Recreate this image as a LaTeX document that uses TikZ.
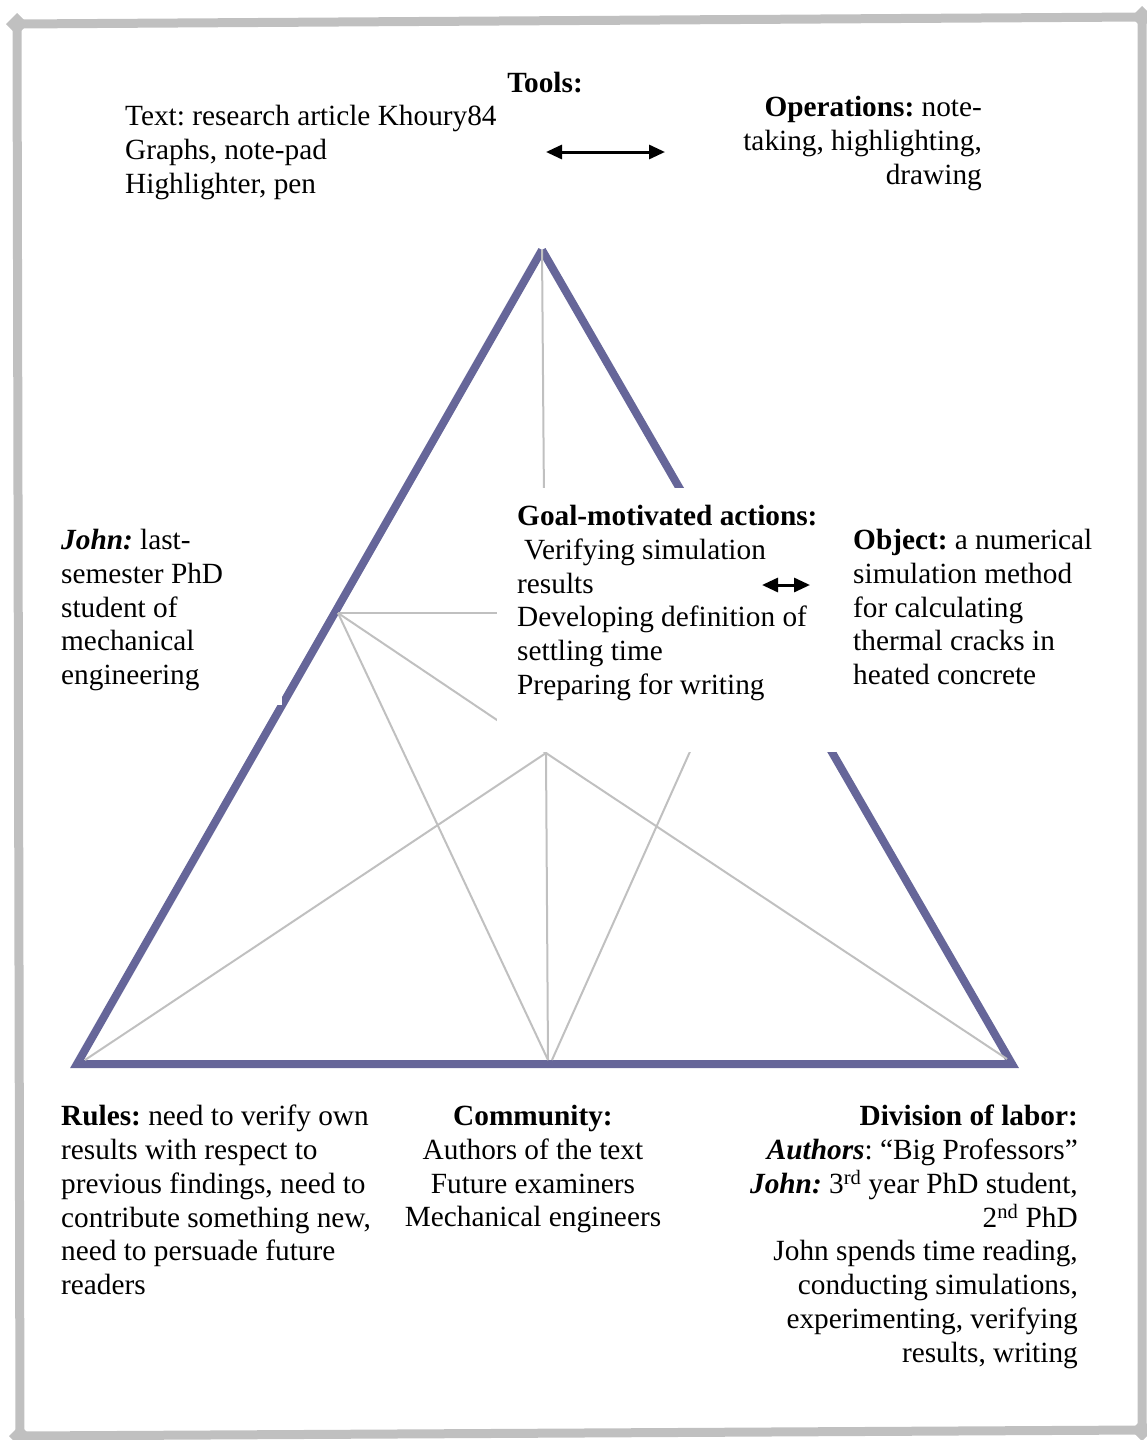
\documentclass[tikz,border=0pt]{standalone}
\usepackage{fontspec}
\setmainfont{Liberation Serif}
\usetikzlibrary{arrows.meta}
\definecolor{framegray}{HTML}{C0C0C0}
\definecolor{triblue}{HTML}{666699}
\frenchspacing
\begin{document}
\begin{tikzpicture}[x=1pt,y=-1pt,
  txt/.style={inner sep=0pt, font=\fontsize{29.3}{33.75}\selectfont},
  frameline/.style={draw=framegray, line width=9pt, line join=miter},
  corner/.style={fill=framegray},
  edge/.style={draw=triblue, line width=8pt, line join=miter},
  spoke/.style={draw=framegray, line width=2pt},
  mask/.style={fill=white, draw=none},
  biarrow/.style={line width=3pt, {Triangle[length=16pt,width=14pt]}-{Triangle[length=16pt,width=14pt]}}
]
\useasboundingbox (0,0) rectangle (1147,1440);

% outer frame with small diamond corners
\draw[frameline] (17,24) -- (1142,17) -- (1142,1430) -- (20,1436) -- cycle;
\fill[corner] (17,13) -- (28,24) -- (17,35) -- (6,24) -- cycle;
\fill[corner] (1142,6) -- (1153,17) -- (1142,28) -- (1131,17) -- cycle;
\fill[corner] (1142,1419) -- (1153,1430) -- (1142,1441) -- (1131,1430) -- cycle;
\fill[corner] (20,1425) -- (31,1436) -- (20,1447) -- (9,1436) -- cycle;

% triangle vertices and inner points
\coordinate (A)  at (542,250);
\coordinate (BL) at (77,1064);
\coordinate (BR) at (1012,1064);
\coordinate (PL) at (338,613);
\coordinate (PR) at (752,613);
\coordinate (C)  at (546,753);
\coordinate (M)  at (548,1060);
\coordinate (M2) at (552,1060);
\coordinate (BLi) at (85,1060);
\coordinate (BRi) at (1007,1059);

% main triangle
\draw[edge] (A) -- (BR) -- (BL) -- (A);

% inner connecting lines
\draw[spoke] (A) -- (C);
\draw[spoke] (PL) -- (PR);
\draw[spoke] (PL) -- (C);
\draw[spoke] (PL) -- (M);
\draw[spoke] (C) -- (BLi);
\draw[spoke] (C) -- (M);
\draw[spoke] (C) -- (BRi);
\draw[spoke] (PR) -- (M2);

% white text backgrounds
\fill[mask] (50,520) rectangle (282,705);
\fill[mask] (497,488) rectangle (840,752);

% texts
\node[txt, anchor=base] (tools) at (545,92) {\textbf{Tools:}};
\node[txt, align=left, anchor=north west] (toolitems) at (125,105)
  {Text: research article Khoury84\\Graphs, note-pad\\Highlighter, pen};
\node[txt, align=right, anchor=north east] (ops) at (982,96)
  {\textbf{Operations:} note-\\taking, highlighting,\\drawing};
\node[txt, align=left, anchor=north west] (subject) at (61,529)
  {\textbf{\textit{John:}} last-\\semester PhD\\student of\\mechanical\\engineering};
\node[txt, align=left, anchor=north west] (goal) at (517,505)
  {\textbf{Goal-motivated actions:}\\\hspace*{7pt}Verifying simulation\\results\\Developing definition of\\settling time\\Preparing for writing};
\node[txt, align=left, anchor=north west] (object) at (853,529)
  {\textbf{Object:} a numerical\\simulation method\\for calculating\\thermal cracks in\\heated concrete};
\node[txt, align=left, anchor=north west] (rules) at (61,1105)
  {\textbf{Rules:} need to verify own\\results with respect to\\previous findings, need to\\contribute something new,\\need to persuade future\\readers};
\node[txt, align=center, anchor=north] (community) at (533,1105)
  {\textbf{Community:}\\Authors of the text\\Future examiners\\Mechanical engineers};
\node[txt, align=right, anchor=north east] (division) at (1078,1105)
  {\textbf{Division of labor:}\\\textbf{\textit{Authors}}: “Big Professors”\\\textbf{\textit{John:}} 3\textsuperscript{rd} year PhD student,\\2\textsuperscript{nd} PhD\\John spends time reading,\\conducting simulations,\\experimenting, verifying\\results, writing};

% arrows
\coordinate (ta) at (546,152);
\coordinate (tb) at (665,152);
\draw[biarrow] (ta) -- (tb);
\coordinate (oa) at (762,585);
\coordinate (ob) at (810,585);
\draw[biarrow] (oa) -- (ob);
\end{tikzpicture}
\end{document}
